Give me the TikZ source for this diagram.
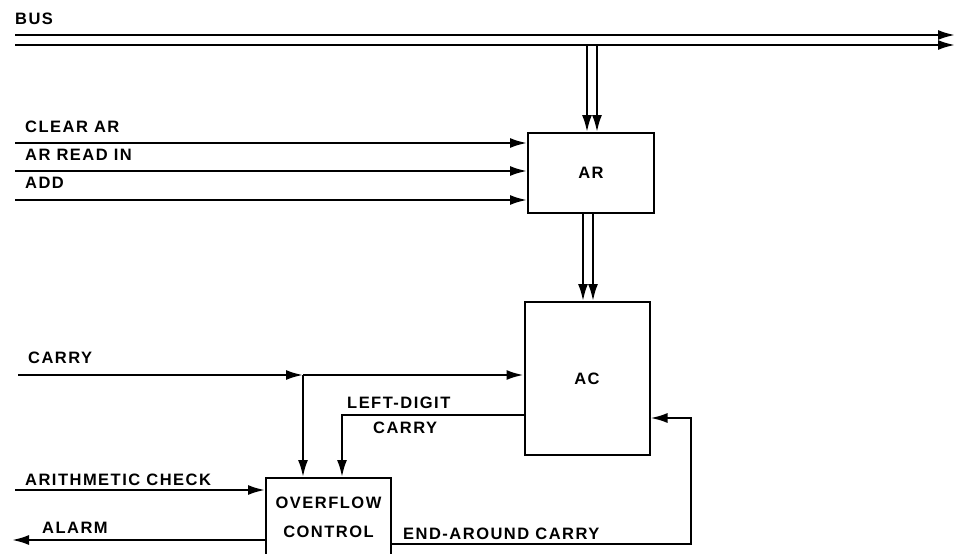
\documentclass[tikz,border=0pt]{standalone}
\usepackage{fontspec}
\setmainfont{Liberation Sans}[LetterSpace=9]
\usetikzlibrary{arrows.meta, positioning}

\tikzstyle{block} = [rectangle, draw=black, line width=2pt, inner sep=0pt]
\tikzstyle{lbl}   = [anchor=base west, inner sep=0pt]
\tikzstyle{arrow} = [-{Latex[length=17pt,width=10pt]}, line width=2.2pt]

\begin{document}
\begin{tikzpicture}[x=1pt, y=-1pt, every node/.style={font=\fontsize{16.5}{18}\selectfont\bfseries}]
  \useasboundingbox (0,0) rectangle (956,554);

  % Registers
  \node (ar)  [block, minimum width=126pt, minimum height=80pt]  at (591,173)   {AR};
  \node (ac)  [block, minimum width=125pt, minimum height=153pt] at (587,378.5) {AC};
  \node (ovf) [block, minimum width=125pt, minimum height=78pt, align=center,
               font=\fontsize{16.5}{29}\selectfont\bfseries] at (328.5,517) {OVERFLOW\\CONTROL};

  % Bus
  \node (buslbl) [lbl] at (15,24) {BUS};
  \coordinate (busA) at (15,35);
  \coordinate (busB) at (15,45);
  \draw [arrow] (busA) -- ++(940,0);
  \draw [arrow] (busB) -- ++(940,0);
  \coordinate (tapA) at (587,45);
  \coordinate (tapB) at (597,45);
  \draw [arrow] (tapA) -- (tapA |- ar.north);
  \draw [arrow] (tapB) -- (tapB |- ar.north);

  % AR to AC
  \draw [arrow] ([xshift=-8pt]ar.south) -- ([xshift=-8pt]ar.south |- ac.north);
  \draw [arrow] ([xshift=2pt]ar.south)  -- ([xshift=2pt]ar.south |- ac.north);

  % Control inputs
  \node (clrlbl)  [lbl] at (25,132) {CLEAR AR};
  \node (readlbl) [lbl] at (25,160) {AR READ IN};
  \node (addlbl)  [lbl] at (25,188) {ADD};
  \coordinate (clr)  at (15,143);
  \coordinate (read) at (15,171);
  \coordinate (add)  at (15,200);
  \draw [arrow] (clr)  -- (clr -| ar.west);
  \draw [arrow] (read) -- (read -| ar.west);
  \draw [arrow] (add)  -- (add -| ar.west);

  % Carry
  \node (carrylbl) [lbl] at (28,363) {CARRY};
  \coordinate (cin) at (18,375);
  \coordinate (cj)  at (303,375);
  \draw [arrow] (cin) -- (cj);
  \draw [arrow] (cj) -- (cj -| ac.west);
  \draw [arrow] (cj) -- (cj |- ovf.north);

  % Left-digit carry
  \node (ldlbl)  [lbl] at (347,408) {LEFT-DIGIT};
  \node (ldlbl2) [lbl] at (373,433) {CARRY};
  \coordinate (ld) at (342,415);
  \draw [arrow] (ld -| ac.west) -- (ld) -- (ld |- ovf.north);

  % Check and alarm
  \node (chklbl) [lbl] at (25,485) {ARITHMETIC CHECK};
  \node (almlbl) [lbl] at (42,533) {ALARM};
  \coordinate (chk) at (15,490);
  \coordinate (alm) at (12,540);
  \draw [arrow] (chk) -- (chk -| ovf.west);
  \draw [arrow] (alm -| ovf.west) -- (alm);

  % End-around carry
  \node (eaclbl) [lbl] at (403,539) {END-AROUND CARRY};
  \coordinate (eac)    at (691,544);
  \coordinate (eactop) at (691,418);
  \draw [arrow] (eac -| ovf.east) -- (eac) -- (eactop) -- (eactop -| ac.east);
\end{tikzpicture}
\end{document}
